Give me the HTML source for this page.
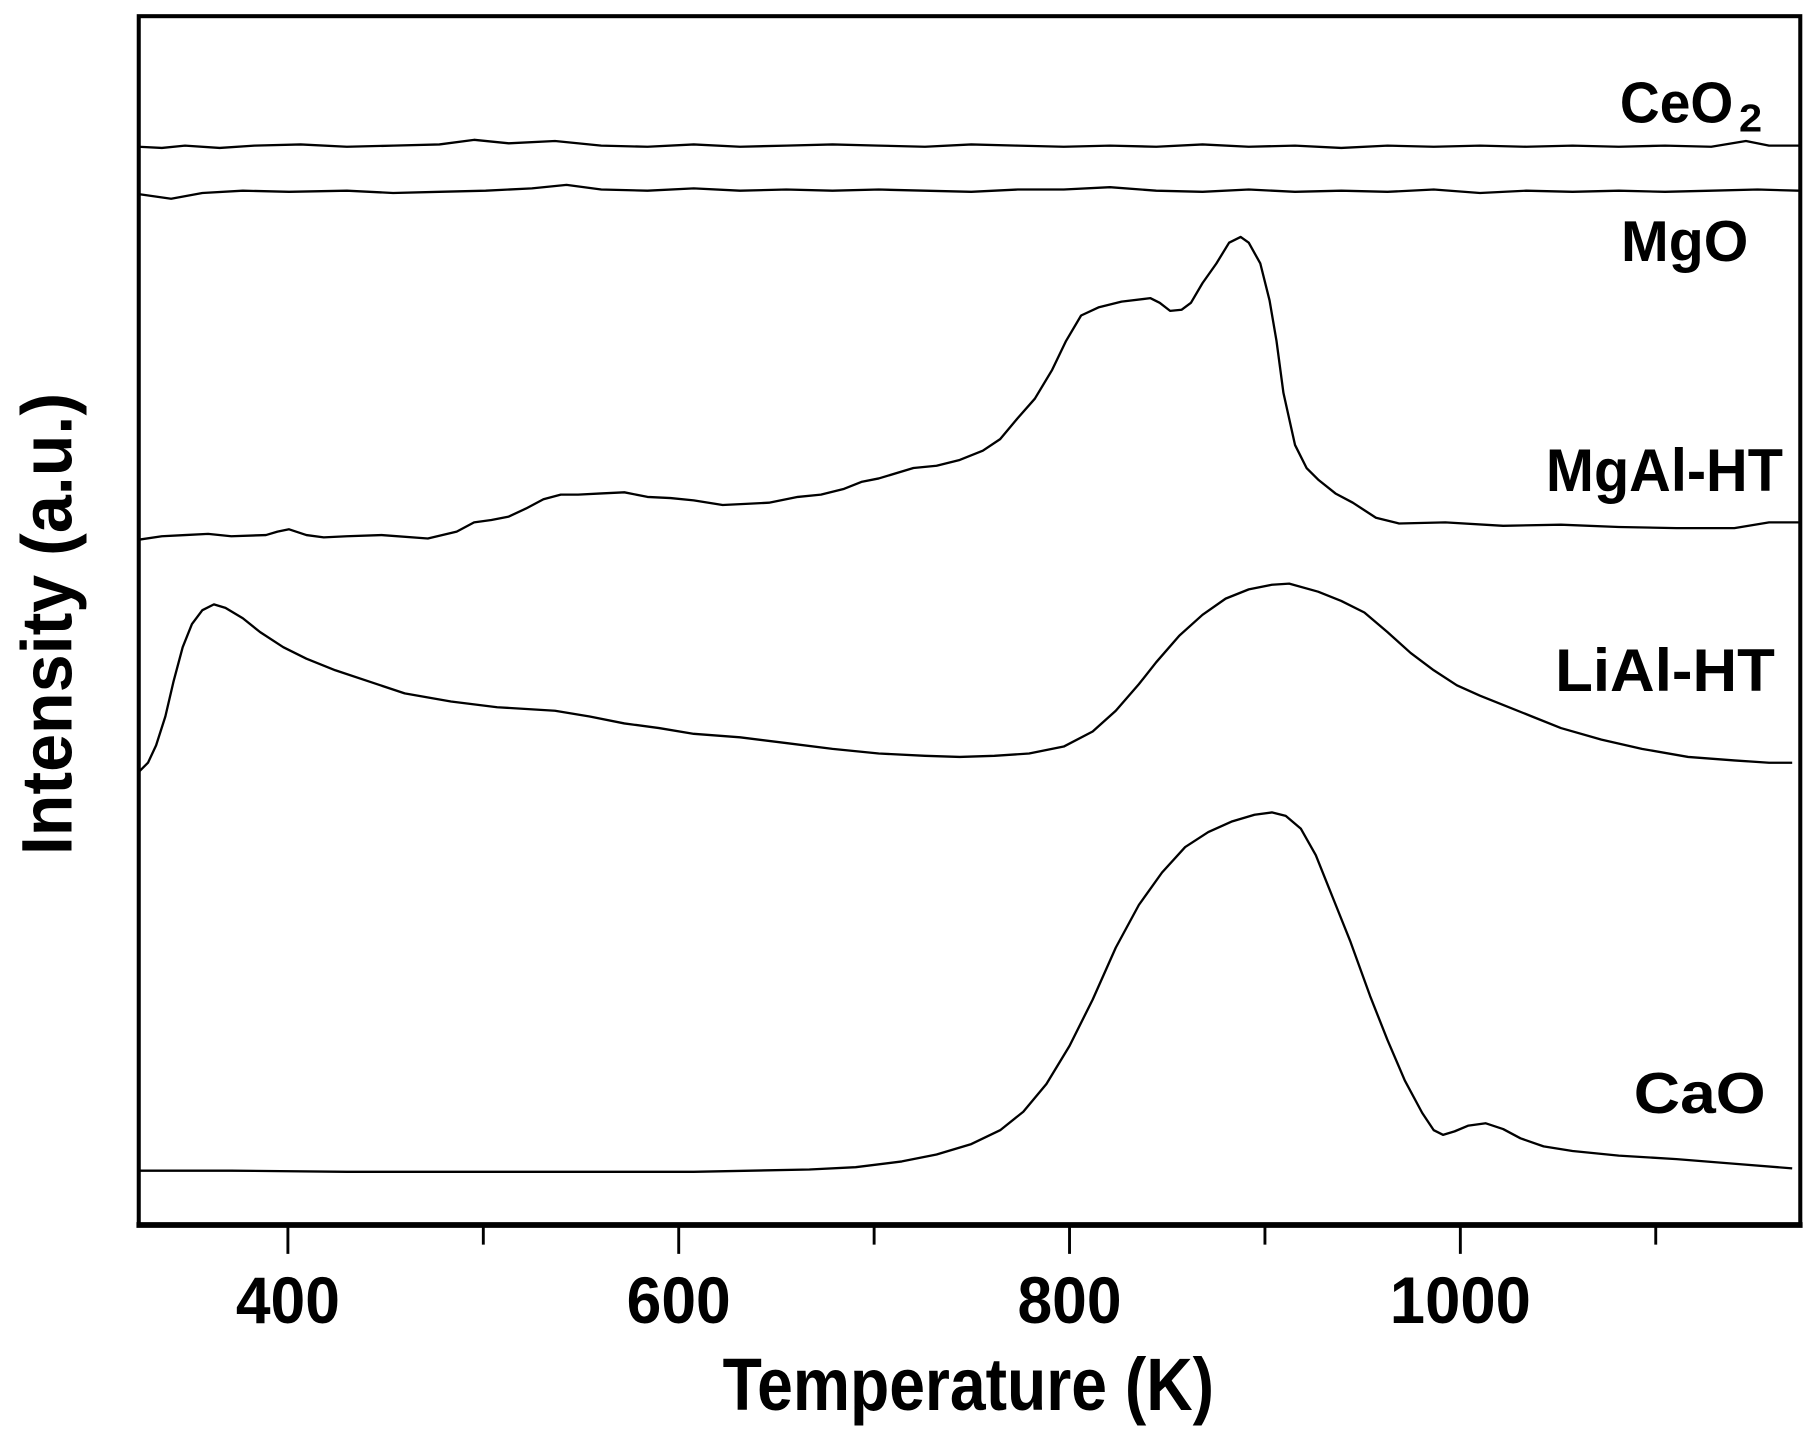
<!DOCTYPE html>
<html><head><meta charset="utf-8"><style>html,body{margin:0;padding:0;background:#fff}svg{display:block}</style></head>
<body>
<svg width="1813" height="1433" viewBox="0 0 1568 1240" preserveAspectRatio="none" xmlns="http://www.w3.org/2000/svg">
<rect width="1568" height="1240" fill="#fff"/>
<g fill="none" stroke="#000" stroke-width="2" stroke-linejoin="round">
<polyline points="120,127 140,128 160,126 190,128 220,126 260,125 300,127 340,126 380,125 410,121 440,124 480,122 520,126 560,127 600,125 640,127 680,126 720,125 760,126 800,127 840,125 880,126 920,127 960,126 1000,127 1040,125 1080,127 1120,126 1160,128 1200,126 1240,127 1280,126 1320,127 1360,126 1400,127 1440,126 1480,127 1510,122 1530,126 1556,126"/>
<polyline points="120,168 148,172 175,167 210,165 250,166 300,165 340,167 380,166 420,165 460,163 490,160 520,164 560,165 600,163 640,165 680,164 720,165 760,164 800,165 840,166 880,164 920,164 960,162 1000,165 1040,166 1080,164 1120,166 1160,165 1200,166 1240,164 1280,167 1320,165 1360,166 1400,165 1440,166 1480,165 1520,164 1556,165"/>
<polyline points="120,467 140,464 160,463 180,462 200,464 230,463 240,460 250,458 265,463 280,465 300,464 330,463 370,466 395,460 410,452 425,450 440,447 455,440 470,432 485,428 500,428 520,427 540,426 560,430 580,431 600,433 625,437 645,436 665,435 690,430 710,428 730,423 745,417 760,414 790,405 810,403 830,398 850,390 865,380 880,362 895,345 910,320 922,295 935,273 950,266 970,261 995,258 1003,262 1012,269 1022,268 1030,262 1040,245 1052,228 1063,210 1073,205 1080,210 1090,228 1098,260 1104,295 1110,340 1120,385 1130,405 1140,415 1155,427 1170,435 1190,448 1210,453 1250,452 1300,455 1350,454 1400,456 1450,457 1500,457 1530,452 1556,452"/>
<polyline points="120,668 128,660 135,645 143,620 150,590 158,560 166,540 175,528 185,523 195,526 210,535 225,547 245,560 265,570 290,580 320,590 350,600 390,607 430,612 480,615 510,620 540,626 570,630 600,635 640,638 680,643 720,648 760,652 800,654 830,655 860,654 890,652 920,646 945,633 965,615 985,592 1000,573 1020,550 1040,532 1060,518 1080,510 1100,506 1115,505 1140,512 1160,520 1180,530 1200,547 1220,565 1240,580 1260,593 1280,602 1300,610 1325,620 1350,630 1385,640 1420,648 1460,655 1500,658 1530,660 1550,660"/>
<polyline points="120,1013 200,1013 300,1014 400,1014 500,1014 600,1014 700,1012 740,1010 780,1005 810,999 840,990 865,978 885,962 905,938 925,905 945,865 965,820 985,783 1005,755 1025,733 1045,720 1065,711 1085,705 1100,703 1112,706 1125,717 1138,740 1152,775 1168,815 1185,862 1200,900 1215,935 1230,963 1240,978 1248,982 1258,979 1270,974 1285,972 1300,977 1315,985 1335,992 1360,996 1400,1000 1450,1003 1500,1007 1550,1011"/>
</g>
<rect x="120" y="14" width="1437" height="1046" fill="none" stroke="#000" stroke-width="3.5"/>
<line x1="118" y1="1060" x2="1559" y2="1060" stroke="#000" stroke-width="5"/>
<g stroke="#000" stroke-width="2.5">
<line x1="249" y1="1060" x2="249" y2="1085"/><line x1="418" y1="1060" x2="418" y2="1077"/>
<line x1="587" y1="1060" x2="587" y2="1085"/><line x1="756" y1="1060" x2="756" y2="1077"/>
<line x1="925" y1="1060" x2="925" y2="1085"/><line x1="1094" y1="1060" x2="1094" y2="1077"/>
<line x1="1263" y1="1060" x2="1263" y2="1085"/><line x1="1432" y1="1060" x2="1432" y2="1077"/>
</g>
<g font-family="Liberation Sans, Arial, sans-serif" font-weight="bold" fill="#000">
<text x="204" y="1145" font-size="57" textLength="90" lengthAdjust="spacingAndGlyphs">400</text>
<text x="542" y="1145" font-size="57" textLength="90" lengthAdjust="spacingAndGlyphs">600</text>
<text x="880" y="1145" font-size="57" textLength="90" lengthAdjust="spacingAndGlyphs">800</text>
<text x="1202" y="1145" font-size="57" textLength="122" lengthAdjust="spacingAndGlyphs">1000</text>
<text x="625" y="1220" font-size="64" textLength="425" lengthAdjust="spacingAndGlyphs">Temperature (K)</text>
<text transform="translate(62,740) rotate(-90)" font-size="62" textLength="400" lengthAdjust="spacingAndGlyphs">Intensity (a.u.)</text>
<text x="1401" y="106" font-size="50" textLength="98" lengthAdjust="spacingAndGlyphs">CeO</text>
<text x="1504" y="114" font-size="34" textLength="20" lengthAdjust="spacingAndGlyphs">2</text>
<text x="1402" y="226" font-size="50" textLength="110" lengthAdjust="spacingAndGlyphs">MgO</text>
<text x="1337" y="425" font-size="52" textLength="205" lengthAdjust="spacingAndGlyphs">MgAl-HT</text>
<text x="1345" y="598" font-size="52" textLength="190" lengthAdjust="spacingAndGlyphs">LiAl-HT</text>
<text x="1413" y="963" font-size="50" textLength="114" lengthAdjust="spacingAndGlyphs">CaO</text>
</g>
</svg>
</body></html>
